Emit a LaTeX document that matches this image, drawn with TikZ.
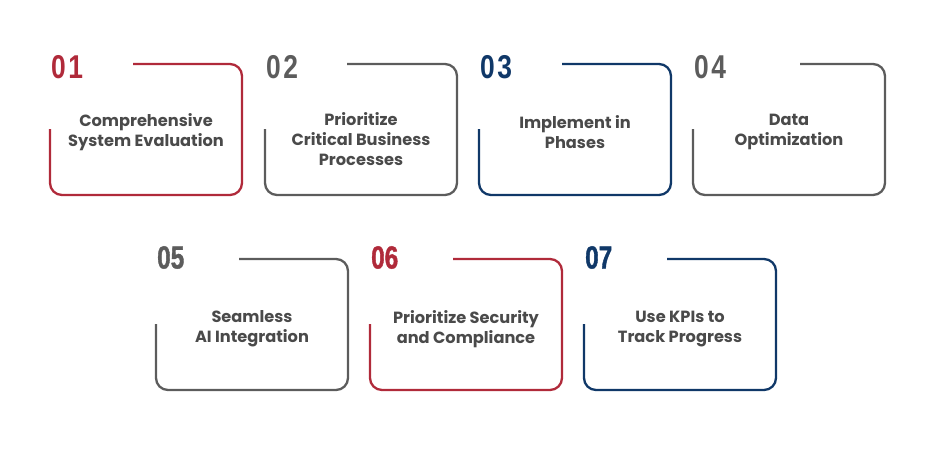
\documentclass[tikz,border=0pt]{standalone}
\usepackage{fontspec}
\setmainfont{Poppins}
\newfontfamily\numfonta[FakeStretch=0.80,LetterSpace=8]{Liberation Sans}
\newfontfamily\numfontb[FakeStretch=0.76,FakeBold=1.2]{Liberation Sans Bold}
\definecolor{cred}{HTML}{B02A3A}
\definecolor{cgray}{HTML}{5C5C5C}
\definecolor{cnavy}{HTML}{103868}
\definecolor{ctext}{HTML}{4A4A4A}
\tikzset{
  cardline/.style={line width=2.3pt, rounded corners=12pt},
  numlabel/.style={anchor=base west, inner sep=0pt},
  numa/.style={font=\numfonta\bfseries\fontsize{33}{33}\selectfont},
  numb/.style={font=\numfontb\fontsize{32}{32}\selectfont},
  cardtext/.style={align=center, inner sep=0pt, text=ctext, font=\bfseries\fontsize{16.2}{20}\selectfont}
}
% #1 name, #2 left x, #3 top y, #4 colour, #5 number, #6 top-line start x, #7 text, #8 text centre y, #9 number style+baseline offset
\newcommand\cardbox[9]{%
  \draw[cardline, draw=#4] (#2,#3+65) -- (#2,#3+131) -- (#2+192,#3+131) -- (#2+192,#3) -- (#6,#3);
  \node[numlabel, text=#4, #9] (#1num) at (#2+1,#3+\numoff) {#5};
  \node[cardtext] (#1txt) at (#2+96,#8) {#7};
}
\begin{document}
\begin{tikzpicture}[x=1pt,y=-1pt]
\useasboundingbox (0,0) rectangle (940,453);
\def\numoff{14}
\cardbox{a}{50}{64}{cred}{01}{133}{Comprehensive\\System Evaluation}{132.5}{numa}
\cardbox{b}{265}{64}{cgray}{02}{347}{Prioritize\\Critical Business\\Processes}{139.5}{numa}
\cardbox{c}{479}{64}{cnavy}{03}{562}{Implement in\\Phases}{132.5}{numa}
\cardbox{d}{693}{64}{cgray}{04}{800}{Data\\Optimization}{132}{numa}
\def\numoff{9.5}
\cardbox{e}{156}{259}{cgray}{05}{239}{Seamless\\AI Integration}{329}{numb}
\cardbox{f}{370}{259}{cred}{06}{453}{Prioritize Security\\and Compliance}{329}{numb}
\cardbox{g}{584}{259}{cnavy}{07}{667}{Use KPIs to\\Track Progress}{329}{numb}
\end{tikzpicture}
\end{document}
